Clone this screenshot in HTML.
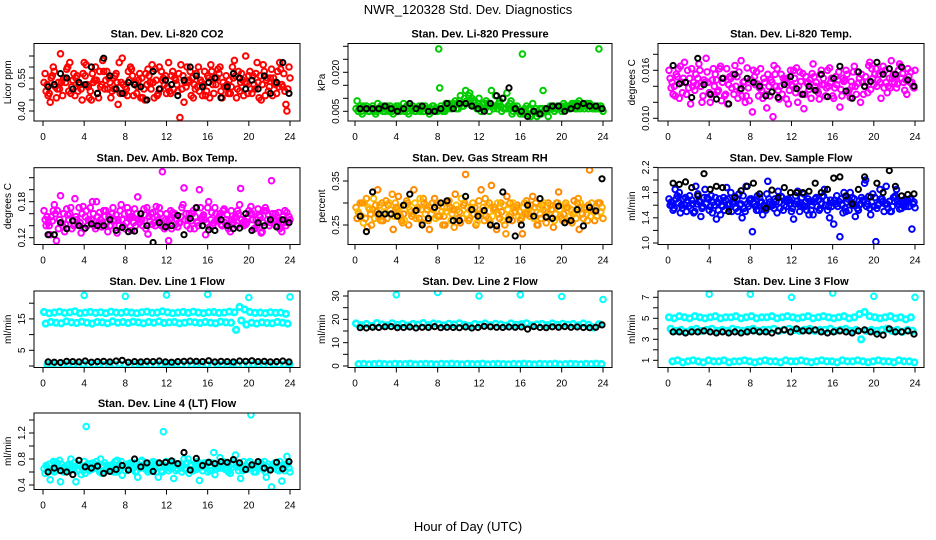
<!DOCTYPE html>
<html><head><meta charset="utf-8"><title>NWR_120328 Std. Dev. Diagnostics</title>
<style>
html,body{margin:0;padding:0;background:#fff;}
svg{display:block;font-family:"Liberation Sans",Arial,sans-serif;}
</style></head>
<body>
<svg id="chart" width="936" height="540" viewBox="0 0 936 540" xmlns="http://www.w3.org/2000/svg">
<text x="468" y="14" text-anchor="middle" font-size="13">NWR_120328 Std. Dev. Diagnostics</text>
<text x="468" y="531" text-anchor="middle" font-size="13">Hour of Day (UTC)</text>
</svg>
<script>
// ---- data ----
const xTicks = [0,4,8,12,16,20,24];
const co2A = [0.53,0.48,0.58,0.50,0.55,0.62,0.47,0.52,0.56,0.49,0.60,0.51,0.54,0.46,0.57,0.53,0.50,0.59,0.48,0.55,0.52,0.61,0.47,0.54,0.51,0.58,0.49,0.56,0.53,0.46,0.60,0.52,0.55,0.48,0.57,0.51,0.54,0.63,0.49,0.53,0.58,0.50,0.56,0.47,0.55,0.52,0.59,0.43];
const co2B = [0.57,0.44,0.51,0.66,0.53,0.48,0.55,0.50,0.61,0.45,0.54,0.52,0.58,0.49,0.53,0.64,0.47,0.56,0.51,0.46,0.59,0.53,0.48,0.55,0.62,0.50,0.57,0.44,0.54,0.52,0.49,0.58,0.46,0.55,0.60,0.51,0.48,0.56,0.53,0.65,0.50,0.57,0.45,0.54,0.59,0.48,0.52,0.40];
const co2C = [0.49,0.55,0.46,0.53,0.59,0.51,0.56,0.45,0.52,0.57,0.48,0.63,0.50,0.55,0.43,0.52,0.58,0.47,0.54,0.50,0.56,0.46,0.60,0.52,0.49,0.55,0.37,0.53,0.58,0.50,0.54,0.47,0.61,0.52,0.49,0.56,0.51,0.46,0.57,0.53,0.48,0.62,0.52,0.55,0.47,0.58,0.51,0.50];
const co2D = [0.52,0.56,0.50,0.47,0.60,0.54,0.49,0.57,0.51,0.53,0.46,0.58,0.55,0.50,0.62,0.48,0.54,0.52,0.57,0.45,0.53,0.59,0.50,0.56,0.48,0.54,0.61,0.51,0.47,0.57,0.53,0.49,0.58,0.55,0.46,0.52,0.60,0.50,0.54,0.48,0.56,0.53,0.61,0.49,0.55,0.51,0.57,0.60];
const co2E = [0.47,0.60,0.53,0.55,0.49,0.57,0.52,0.62,0.46,0.54,0.58,0.50,0.53,0.56,0.48,0.51,0.60,0.53,0.46,0.57,0.50,0.54,0.58,0.48,0.56,0.52,0.50,0.60,0.55,0.51,0.47,0.56,0.52,0.59,0.53,0.48,0.55,0.58,0.47,0.56,0.52,0.46,0.58,0.51,0.53,0.62,0.49,0.55];
const co2K = [0.51,0.52,0.57,0.55,0.50,0.53,0.52,0.60,0.48,0.64,0.56,0.50,0.48,0.53,0.52,0.51,0.45,0.58,0.50,0.54,0.52,0.47,0.54,0.60,0.56,0.51,0.53,0.55,0.46,0.51,0.57,0.55,0.50,0.54,0.50,0.56,0.48,0.53,0.62,0.48];

const presA = [0.006,0.005,0.007,0.006,0.005,0.006,0.007,0.005,0.006,0.006,0.005,0.007,0.006,0.005,0.006,0.007,0.029,0.006,0.008,0.007,0.009,0.010,0.012,0.009,0.007,0.006,0.008,0.011,0.007,0.006,0.009,0.006,0.005,0.007,0.004,0.003,0.006,0.005,0.006,0.007,0.006,0.007,0.007,0.008,0.007,0.006,0.007,0.029];
const presB = [0.009,0.004,0.006,0.007,0.008,0.005,0.006,0.004,0.007,0.008,0.004,0.006,0.007,0.005,0.004,0.006,0.014,0.005,0.007,0.009,0.011,0.013,0.008,0.007,0.005,0.009,0.013,0.007,0.005,0.012,0.004,0.007,0.027,0.004,0.008,0.005,0.013,0.003,0.007,0.006,0.008,0.006,0.008,0.009,0.006,0.008,0.006,0.006];
const presC = [0.005,0.007,0.005,0.005,0.006,0.007,0.005,0.006,0.005,0.005,0.007,0.005,0.005,0.007,0.006,0.005,0.007,0.008,0.006,0.006,0.008,0.009,0.010,0.006,0.006,0.008,0.007,0.006,0.010,0.007,0.005,0.005,0.004,0.006,0.005,0.004,0.005,0.006,0.005,0.006,0.007,0.006,0.006,0.006,0.007,0.007,0.006,0.007];
const presD = [0.006,0.006,0.005,0.006,0.006,0.005,0.007,0.006,0.005,0.006,0.006,0.005,0.006,0.006,0.005,0.006,0.006,0.007,0.007,0.008,0.007,0.008,0.009,0.008,0.006,0.007,0.006,0.008,0.006,0.006,0.007,0.005,0.006,0.006,0.005,0.006,0.006,0.007,0.006,0.007,0.007,0.007,0.008,0.007,0.008,0.007,0.006,0.006];
const presE = [0.007,0.006,0.006,0.004,0.007,0.006,0.005,0.007,0.006,0.007,0.006,0.006,0.007,0.006,0.007,0.005,0.005,0.006,0.008,0.006,0.007,0.011,0.007,0.010,0.008,0.005,0.007,0.009,0.006,0.008,0.006,0.004,0.005,0.003,0.006,0.004,0.005,0.006,0.006,0.005,0.006,0.008,0.006,0.007,0.008,0.006,0.007,0.005];
const presK = [0.006,0.006,0.006,0.006,0.007,0.006,0.005,0.006,0.008,0.006,0.007,0.005,0.005,0.006,0.008,0.006,0.008,0.008,0.007,0.006,0.005,0.008,0.011,0.010,0.014,0.006,0.005,0.003,0.005,0.004,0.006,0.007,0.007,0.005,0.006,0.007,0.008,0.007,0.007,0.006];

const tempA = [0.0160,0.0140,0.0125,0.0170,0.0150,0.0135,0.0160,0.0145,0.0120,0.0155,0.0165,0.0130,0.0150,0.0140,0.0172,0.0128,0.0148,0.0158,0.0135,0.0113,0.0145,0.0162,0.0130,0.0150,0.0140,0.0120,0.0156,0.0145,0.0168,0.0132,0.0150,0.0140,0.0125,0.0158,0.0146,0.0135,0.0165,0.0150,0.0140,0.0170,0.0155,0.0145,0.0160,0.0138,0.0152,0.0165,0.0148,0.0158];
const tempB = [0.0150,0.0128,0.0165,0.0145,0.0118,0.0155,0.0140,0.0175,0.0130,0.0148,0.0122,0.0162,0.0138,0.0152,0.0128,0.0163,0.0108,0.0143,0.0125,0.0155,0.0102,0.0135,0.0150,0.0118,0.0160,0.0140,0.0112,0.0136,0.0152,0.0124,0.0142,0.0163,0.0138,0.0114,0.0148,0.0126,0.0140,0.0120,0.0152,0.0136,0.0162,0.0125,0.0145,0.0172,0.0138,0.0150,0.0130,0.0145];
const tempC = [0.0138,0.0155,0.0145,0.0130,0.0162,0.0142,0.0120,0.0158,0.0148,0.0133,0.0145,0.0118,0.0155,0.0125,0.0145,0.0138,0.0160,0.0128,0.0150,0.0140,0.0166,0.0124,0.0145,0.0135,0.0150,0.0158,0.0130,0.0148,0.0140,0.0155,0.0128,0.0145,0.0152,0.0136,0.0160,0.0146,0.0130,0.0155,0.0145,0.0162,0.0140,0.0158,0.0132,0.0150,0.0143,0.0156,0.0162,0.0140];
const tempD = [0.0145,0.0152,0.0132,0.0160,0.0140,0.0150,0.0128,0.0145,0.0162,0.0135,0.0150,0.0142,0.0130,0.0158,0.0146,0.0122,0.0152,0.0138,0.0145,0.0128,0.0155,0.0140,0.0148,0.0160,0.0132,0.0146,0.0152,0.0125,0.0145,0.0160,0.0138,0.0150,0.0142,0.0128,0.0155,0.0140,0.0158,0.0145,0.0132,0.0150,0.0148,0.0165,0.0140,0.0155,0.0160,0.0145,0.0152,0.0138];
const tempE = [0.0130,0.0162,0.0150,0.0138,0.0145,0.0168,0.0148,0.0132,0.0140,0.0162,0.0128,0.0152,0.0166,0.0135,0.0120,0.0148,0.0142,0.0162,0.0130,0.0148,0.0140,0.0155,0.0124,0.0142,0.0163,0.0130,0.0144,0.0156,0.0135,0.0142,0.0160,0.0128,0.0148,0.0150,0.0132,0.0158,0.0144,0.0130,0.0166,0.0142,0.0155,0.0138,0.0150,0.0145,0.0168,0.0135,0.0145,0.0160];
const tempK = [0.0166,0.0143,0.0145,0.0126,0.0175,0.0142,0.0130,0.0124,0.0150,0.0118,0.0155,0.0137,0.0150,0.0145,0.0140,0.0128,0.0133,0.0126,0.0142,0.0152,0.0137,0.0130,0.0140,0.0135,0.0155,0.0127,0.0150,0.0165,0.0134,0.0125,0.0158,0.0140,0.0146,0.0170,0.0155,0.0162,0.0155,0.0164,0.0148,0.0140];

const ambA = [0.165,0.140,0.175,0.150,0.130,0.160,0.185,0.145,0.155,0.170,0.135,0.150,0.165,0.140,0.158,0.175,0.145,0.132,0.160,0.150,0.170,0.142,0.155,0.230,0.148,0.162,0.138,0.175,0.150,0.165,0.140,0.158,0.180,0.145,0.155,0.168,0.140,0.152,0.175,0.148,0.160,0.135,0.155,0.170,0.145,0.160,0.150,0.140];
const ambB = [0.150,0.125,0.160,0.190,0.142,0.170,0.155,0.128,0.165,0.150,0.180,0.138,0.146,0.160,0.128,0.150,0.170,0.155,0.188,0.140,0.126,0.162,0.150,0.140,0.115,0.158,0.145,0.203,0.160,0.135,0.200,0.150,0.138,0.170,0.160,0.145,0.130,0.155,0.202,0.142,0.172,0.150,0.128,0.165,0.215,0.148,0.130,0.162];
const ambC = [0.140,0.155,0.115,0.145,0.168,0.135,0.150,0.160,0.140,0.180,0.155,0.145,0.130,0.170,0.150,0.140,0.162,0.145,0.150,0.168,0.155,0.145,0.170,0.135,0.150,0.160,0.145,0.150,0.135,0.155,0.170,0.125,0.150,0.160,0.142,0.150,0.165,0.140,0.150,0.145,0.160,0.140,0.130,0.150,0.160,0.140,0.155,0.145];
const ambD = [0.155,0.148,0.165,0.140,0.158,0.150,0.142,0.172,0.150,0.160,0.145,0.165,0.155,0.148,0.140,0.160,0.152,0.168,0.145,0.158,0.148,0.140,0.160,0.150,0.165,0.142,0.155,0.160,0.148,0.170,0.152,0.145,0.162,0.150,0.140,0.158,0.150,0.165,0.145,0.155,0.150,0.168,0.145,0.158,0.150,0.162,0.145,0.155];
const ambE = [0.145,0.165,0.135,0.160,0.150,0.140,0.170,0.135,0.148,0.140,0.162,0.155,0.140,0.150,0.165,0.135,0.155,0.140,0.150,0.135,0.160,0.172,0.140,0.160,0.135,0.150,0.170,0.140,0.160,0.145,0.155,0.170,0.140,0.152,0.165,0.135,0.145,0.160,0.140,0.165,0.135,0.158,0.165,0.140,0.150,0.135,0.165,0.150];
const ambK = [0.125,0.125,0.145,0.135,0.148,0.140,0.136,0.143,0.140,0.140,0.150,0.132,0.137,0.130,0.131,0.160,0.140,0.112,0.145,0.138,0.140,0.157,0.125,0.152,0.170,0.140,0.133,0.132,0.150,0.140,0.135,0.136,0.160,0.132,0.145,0.140,0.150,0.138,0.150,0.145];

const rhA = [0.290,0.270,0.310,0.250,0.280,0.300,0.265,0.320,0.285,0.255,0.300,0.275,0.290,0.310,0.260,0.285,0.295,0.270,0.305,0.245,0.280,0.300,0.265,0.290,0.275,0.310,0.255,0.285,0.300,0.230,0.275,0.290,0.265,0.305,0.280,0.250,0.295,0.270,0.285,0.300,0.260,0.290,0.275,0.310,0.265,0.295,0.280,0.300];
const rhB = [0.265,0.300,0.245,0.285,0.330,0.260,0.295,0.240,0.315,0.275,0.250,0.330,0.265,0.300,0.240,0.310,0.270,0.250,0.290,0.320,0.255,0.365,0.285,0.250,0.330,0.270,0.340,0.240,0.280,0.315,0.260,0.295,0.230,0.275,0.315,0.250,0.285,0.300,0.245,0.325,0.275,0.260,0.305,0.240,0.290,0.375,0.260,0.300];
const rhC = [0.280,0.255,0.290,0.310,0.265,0.280,0.300,0.270,0.290,0.260,0.285,0.300,0.310,0.275,0.290,0.265,0.300,0.280,0.260,0.295,0.310,0.275,0.290,0.255,0.280,0.295,0.270,0.300,0.260,0.285,0.300,0.270,0.290,0.280,0.265,0.290,0.300,0.275,0.260,0.285,0.295,0.270,0.280,0.300,0.285,0.270,0.290,0.280];
const rhD = [0.275,0.300,0.285,0.265,0.295,0.275,0.285,0.300,0.270,0.295,0.280,0.265,0.285,0.295,0.275,0.300,0.280,0.290,0.275,0.285,0.265,0.290,0.300,0.275,0.290,0.265,0.285,0.275,0.295,0.270,0.290,0.280,0.300,0.270,0.290,0.275,0.280,0.295,0.275,0.270,0.300,0.285,0.265,0.290,0.275,0.300,0.270,0.290];
const rhE = [0.300,0.265,0.275,0.295,0.260,0.305,0.275,0.290,0.260,0.305,0.270,0.285,0.255,0.285,0.300,0.270,0.250,0.300,0.285,0.265,0.295,0.260,0.275,0.305,0.260,0.300,0.290,0.265,0.250,0.300,0.280,0.260,0.275,0.295,0.300,0.265,0.255,0.285,0.300,0.265,0.290,0.255,0.300,0.275,0.260,0.285,0.300,0.265];
const rhK = [0.270,0.235,0.325,0.275,0.275,0.275,0.270,0.295,0.320,0.283,0.250,0.265,0.290,0.300,0.305,0.260,0.260,0.315,0.285,0.270,0.283,0.250,0.248,0.325,0.262,0.225,0.250,0.295,0.270,0.310,0.268,0.265,0.293,0.255,0.260,0.285,0.248,0.290,0.282,0.355];

const sfA = [1.70,1.55,1.80,1.60,1.75,1.50,1.65,1.85,1.58,1.72,1.45,1.68,1.80,1.55,1.62,1.90,1.70,1.52,1.65,1.78,1.60,1.48,1.72,1.66,1.55,1.82,1.60,1.70,1.45,1.68,1.75,1.58,1.30,1.66,1.80,1.52,1.70,1.60,1.95,1.55,1.72,1.85,1.62,1.50,1.75,1.65,1.58,1.70];
const sfB = [1.60,1.85,1.48,1.72,1.55,1.90,1.42,1.62,1.75,1.38,1.60,1.88,1.50,1.70,1.40,1.62,1.18,1.75,1.45,1.98,1.60,1.82,1.52,1.70,1.38,1.62,1.78,1.45,1.65,1.52,1.85,1.40,1.68,1.10,1.55,1.80,1.42,1.62,2.00,1.45,1.02,1.70,1.90,1.50,1.85,1.55,1.68,1.22];
const sfC = [1.65,1.70,1.60,1.50,1.68,1.62,1.55,1.72,1.48,1.65,1.58,1.70,1.62,1.50,1.75,1.58,1.65,1.52,1.60,1.70,1.55,1.65,1.60,1.68,1.62,1.50,1.58,1.66,1.70,1.55,1.60,1.68,1.62,1.70,1.50,1.65,1.60,1.72,1.58,1.65,1.55,1.70,1.62,1.58,1.66,1.60,1.68,1.62];
const sfD = [1.60,1.75,1.55,1.68,1.62,1.78,1.58,1.70,1.65,1.52,1.72,1.60,1.66,1.78,1.55,1.68,1.62,1.72,1.58,1.65,1.70,1.55,1.68,1.62,1.75,1.58,1.66,1.52,1.72,1.62,1.68,1.58,1.75,1.60,1.65,1.72,1.55,1.68,1.62,1.78,1.60,1.66,1.55,1.72,1.62,1.68,1.58,1.65];
const sfE = [1.52,1.64,1.70,1.58,1.48,1.66,1.72,1.52,1.60,1.70,1.52,1.62,1.74,1.60,1.50,1.70,1.58,1.64,1.52,1.58,1.66,1.74,1.58,1.50,1.66,1.72,1.52,1.60,1.58,1.74,1.52,1.64,1.58,1.48,1.70,1.60,1.52,1.66,1.74,1.58,1.62,1.50,1.66,1.72,1.54,1.62,1.70,1.56];
const sfK = [1.95,1.93,1.97,1.88,1.75,2.10,1.85,1.90,1.88,1.50,1.72,1.83,1.90,1.95,1.78,1.55,1.84,1.72,1.88,1.80,1.80,1.80,1.82,1.95,1.80,1.85,2.03,2.05,1.75,1.62,1.85,2.05,1.73,1.95,1.80,2.15,1.90,1.75,1.77,1.78];

const l1Up = [17.2,16.8,17.0,17.3,16.9,17.1,17.4,16.8,17.0,17.2,16.9,17.1,16.8,17.3,17.0,16.9,17.2,17.0,16.8,17.1,17.3,16.9,17.0,17.4,17.1,16.8,17.0,17.2,16.9,17.3,17.0,16.8,17.1,17.2,16.9,17.0,17.3,17.1,18.8,18.0,17.2,16.9,17.0,16.8,17.1,16.9,17.0,16.6];
const l1Low = [13.5,14.0,13.8,13.6,14.2,13.9,13.7,14.1,13.8,13.5,14.0,13.9,13.6,14.2,13.8,14.0,13.7,14.1,13.9,13.6,14.0,13.8,14.2,13.7,13.9,14.0,13.6,13.8,14.1,13.9,13.7,14.0,13.8,13.6,14.1,13.9,13.8,11.5,14.5,13.2,13.8,13.5,13.9,13.7,13.6,14.0,13.8,13.5];
const l1Base = [0.4,0.5,0.3,0.4,0.5,0.4,0.3,0.5,0.4,0.4,0.5,0.3,0.4,0.4,0.5,0.4,0.3,0.4,0.5,0.4,0.4,0.3,0.5,0.4,0.4,0.5,0.4,0.3,0.4,0.5,0.4,0.4,0.3,0.5,0.4,0.4,0.5,0.4,0.3,0.4,0.5,0.4,0.4,0.3,0.5,0.4,0.4,0.5];
const l1K = [1.3,1.2,1.1,1.5,1.4,1.3,1.6,1.2,1.4,1.5,1.3,1.6,1.8,1.2,1.4,1.3,1.5,1.4,1.6,1.3,1.2,1.4,1.5,1.6,1.5,1.4,1.7,1.3,1.5,1.4,1.3,1.6,1.5,1.7,1.4,1.5,1.3,1.4,1.6,1.3];
const l1OutHrs = [4,8,12,16,20,24];
const l1Out = [22.5,22.2,22.6,22.8,21.8,22.0];

const l2Band = [18.2,17.5,18.0,17.2,18.4,17.8,17.4,18.3,17.6,18.1,17.3,18.0,17.7,18.4,17.5,18.2,17.9,17.4,18.1,17.8,18.3,17.6,17.2,18.0,17.7,18.2,17.5,18.1,17.8,17.3,18.2,17.6,17.9,18.3,17.4,17.8,18.0,17.5,18.2,17.6,18.1,17.7,18.0,17.4,18.2,17.7,16.5,17.9];
const l2Base = [0.8,0.9,0.7,0.8,1.0,0.8,0.7,0.9,0.8,0.8,1.0,0.7,0.8,0.9,0.8,0.7,0.9,0.8,1.0,0.8,0.7,0.9,0.8,0.8,1.0,0.7,0.8,0.9,0.8,0.7,0.9,0.8,1.0,0.8,0.7,0.9,0.8,0.8,1.0,0.7,0.8,0.9,0.8,0.7,0.9,0.8,1.0,0.8];
const l2K = [16.4,16.3,16.6,16.5,16.8,16.9,16.4,16.5,16.7,16.3,16.6,16.5,16.9,16.4,16.6,16.5,16.4,16.7,16.3,16.5,17.0,16.8,16.6,16.5,16.7,16.6,16.7,15.8,16.9,16.5,16.4,16.8,16.6,16.9,16.6,16.7,16.5,16.4,16.6,17.6];
const l2OutHrs = [4,8,12,16,20,24];
const l2Out = [30.5,31.5,30.0,30.5,29.8,28.5];

const l3Up = [5.1,5.0,5.2,5.1,5.0,5.2,5.1,5.0,5.1,5.2,5.0,5.1,5.1,5.2,5.0,5.1,5.2,5.0,5.1,5.1,5.2,5.0,5.1,5.2,5.1,5.0,5.1,5.2,5.0,5.1,5.2,5.1,5.0,5.1,5.2,5.0,5.1,5.4,5.6,5.2,5.1,5.0,5.1,5.2,5.0,5.1,4.9,5.1];
const l3Mid = [4.0,3.8,3.9,3.7,3.9,4.0,3.8,3.9,4.0,3.8,3.9,3.8,4.0,3.9,3.8,3.9,4.0,3.8,3.9,3.9,4.0,3.8,3.9,4.0,3.9,3.8,3.9,4.0,3.8,3.9,3.9,4.0,3.8,3.9,4.0,3.8,3.9,3.0,3.8,3.9,3.8,3.9,4.0,3.8,3.9,3.7,3.9,3.8];
const l3Base = [0.9,1.0,0.8,0.9,1.0,0.9,0.8,1.0,0.9,0.9,1.0,0.8,0.9,0.9,1.0,0.9,0.8,0.9,1.0,0.9,0.9,0.8,1.0,0.9,0.9,1.0,0.9,0.8,0.9,1.0,0.9,0.9,0.8,1.0,0.9,0.9,1.0,0.9,0.8,0.9,1.0,0.9,0.9,0.8,1.0,0.9,0.9,0.8];
const l3K = [3.7,3.7,3.6,3.7,3.7,3.8,3.7,3.6,3.7,3.6,3.7,3.6,3.7,3.8,3.7,3.7,3.6,3.8,3.9,3.7,4.0,3.8,3.8,3.9,3.7,3.6,3.7,3.8,3.7,3.6,3.8,3.9,3.7,3.5,3.4,4.0,3.7,3.7,3.8,3.5];
const l3OutHrs = [4,8,12,16,20,24];
const l3Out = [7.3,7.3,7.0,7.4,7.1,7.0];

const l4A = [0.65,0.72,0.60,0.78,0.68,0.62,0.75,0.70,0.58,0.73,0.66,0.80,0.64,0.70,0.60,0.76,0.68,0.72,0.62,0.78,0.66,0.70,0.74,0.60,0.68,0.76,0.64,0.70,0.80,0.62,0.72,0.68,0.75,0.90,0.66,0.72,0.62,0.78,0.70,0.64,0.76,0.68,0.72,0.60,0.66,0.74,0.70,0.72];
const l4B = [0.58,0.48,0.75,0.45,0.66,0.80,0.45,0.56,1.30,0.64,0.76,0.58,0.70,0.62,0.78,0.55,0.72,0.64,0.52,0.70,0.60,0.76,0.52,1.22,0.62,0.50,0.72,0.80,0.58,0.66,0.47,0.74,0.62,0.56,0.82,0.64,0.58,0.86,0.50,0.70,1.48,0.60,0.74,0.52,0.37,0.64,0.46,0.84];
const l4C = [0.70,0.64,0.68,0.72,0.66,0.70,0.62,0.68,0.72,0.65,0.70,0.68,0.62,0.72,0.66,0.70,0.64,0.68,0.70,0.66,0.72,0.64,0.68,0.70,0.66,0.72,0.68,0.64,0.70,0.66,0.72,0.68,0.70,0.64,0.68,0.72,0.66,0.70,0.68,0.64,0.70,0.72,0.66,0.68,0.70,0.64,0.68,0.72];
const l4D = [0.68,0.62,0.74,0.66,0.70,0.64,0.72,0.62,0.68,0.74,0.64,0.70,0.66,0.60,0.72,0.68,0.64,0.74,0.66,0.70,0.62,0.72,0.68,0.66,0.74,0.62,0.70,0.66,0.72,0.64,0.68,0.74,0.62,0.70,0.66,0.64,0.72,0.68,0.62,0.74,0.66,0.70,0.64,0.72,0.68,0.62,0.70,0.66];
const l4E = [0.62,0.76,0.66,0.60,0.72,0.74,0.64,0.76,0.62,0.68,0.60,0.74,0.70,0.76,0.64,0.62,0.74,0.60,0.76,0.64,0.74,0.60,0.62,0.76,0.72,0.66,0.60,0.74,0.64,0.76,0.62,0.60,0.74,0.68,0.76,0.60,0.74,0.62,0.76,0.66,0.60,0.72,0.76,0.64,0.74,0.76,0.62,0.60];
const l4K = [0.60,0.66,0.62,0.60,0.56,0.78,0.68,0.66,0.69,0.58,0.61,0.64,0.70,0.63,0.80,0.68,0.74,0.61,0.74,0.75,0.77,0.73,0.90,0.63,0.81,0.70,0.75,0.73,0.76,0.75,0.79,0.74,0.64,0.71,0.76,0.66,0.63,0.75,0.65,0.76];

// ---- rendering ----
const NS = 'http://www.w3.org/2000/svg';
const svg = document.getElementById('chart');
function mk(tag, attrs, parent){
  const e = document.createElementNS(NS, tag);
  for (const k in attrs) e.setAttribute(k, attrs[k]);
  (parent||svg).appendChild(e);
  return e;
}
const cols = [{l:34,r:300,x0:43,x24:290},{l:348,r:612,x0:355,x24:603},{l:658,r:924,x0:668,x24:915}];
const rows = [{t:43.5,b:121},{t:167.7,b:244.5},{t:291,b:367.5},{t:413,b:489.5}];

function hrsFor(n, off, step){ return Array.from({length:n},(_,i)=>i*step+off); }

const panels = [
 {name:'co2',title:'Stan. Dev. Li-820 CO2',ylab:'Licor ppm',c:0,r:0,v0:0.40,p0:111,k:220,ticks:[0.40,0.45,0.50,0.55,0.60,0.65],labels:[0.40,0.55],dec:2,
  series:[[co2A,'#ff0000'],[co2B,'#ff0000'],[co2C,'#ff0000'],[co2D,'#ff0000'],[co2E,'#ff0000']],black:co2K},
 {name:'pressure',title:'Stan. Dev. Li-820 Pressure',ylab:'kPa',c:1,r:0,v0:0.005,p0:111.3,k:2600,ticks:[0.005,0.010,0.015,0.020,0.025,0.030],labels:[0.005,0.020],dec:3,
  series:[[presA,'#00cc00'],[presB,'#00cc00'],[presC,'#00cc00'],[presD,'#00cc00'],[presE,'#00cc00']],black:presK},
 {name:'temp',title:'Stan. Dev. Li-820 Temp.',ylab:'degrees C',c:2,r:0,v0:0.010,p0:118.3,k:8000,ticks:[0.010,0.012,0.014,0.016,0.018],labels:[0.010,0.016],dec:3,
  series:[[tempA,'#ff00ff'],[tempB,'#ff00ff'],[tempC,'#ff00ff'],[tempD,'#ff00ff'],[tempE,'#ff00ff']],black:tempK},
 {name:'amb-box-temp',title:'Stan. Dev. Amb. Box Temp.',ylab:'degrees C',c:0,r:1,v0:0.12,p0:237.7,k:600,ticks:[0.12,0.14,0.16,0.18,0.20,0.22],labels:[0.12,0.18],dec:2,
  series:[[ambA,'#ff00ff'],[ambB,'#ff00ff'],[ambC,'#ff00ff'],[ambD,'#ff00ff'],[ambE,'#ff00ff']],black:ambK},
 {name:'gas-rh',title:'Stan. Dev. Gas Stream RH',ylab:'percent',c:1,r:1,v0:0.25,p0:225,k:440,ticks:[0.25,0.30,0.35],labels:[0.25,0.35],dec:2,
  series:[[rhA,'#ff9900'],[rhB,'#ff8800'],[rhC,'#ffbb00'],[rhD,'#ffaa00'],[rhE,'#ff9900']],black:rhK},
 {name:'sample-flow',title:'Stan. Dev. Sample Flow',ylab:'ml/min',c:2,r:1,v0:1.0,p0:243,k:63,ticks:[1.0,1.2,1.4,1.6,1.8,2.0,2.2],labels:[1.0,1.4,1.8,2.2],dec:1,
  series:[[sfA,'#0000ff'],[sfB,'#0000ff'],[sfC,'#0000ff'],[sfD,'#0000ff'],[sfE,'#0000ff']],black:sfK},
 {name:'line1-flow',title:'Stan. Dev. Line 1 Flow',ylab:'ml/min',c:0,r:2,v0:0,p0:366,k:3.14,ticks:[0,5,10,15,20],labels:[5,15],dec:0,band:true,
  series:[[l1Up,'#00ffff'],[l1Low,'#00ffff'],[l1Base,'#00ffff']],black:l1K,out:[l1OutHrs,l1Out]},
 {name:'line2-flow',title:'Stan. Dev. Line 2 Flow',ylab:'ml/min',c:1,r:2,v0:0,p0:366,k:2.333,ticks:[0,5,10,15,20,25,30],labels:[0,10,20,30],dec:0,band:true,
  series:[[l2Band,'#00ffff'],[l2Base,'#00ffff']],black:l2K,out:[l2OutHrs,l2Out]},
 {name:'line3-flow',title:'Stan. Dev. Line 3 Flow',ylab:'ml/min',c:2,r:2,v0:1,p0:360.3,k:10.5,ticks:[1,2,3,4,5,6,7],labels:[1,3,5,7],dec:0,band:true,
  series:[[l3Up,'#00ffff'],[l3Mid,'#00ffff'],[l3Base,'#00ffff']],black:l3K,out:[l3OutHrs,l3Out]},
 {name:'line4-flow',title:'Stan. Dev. Line 4 (LT) Flow',ylab:'ml/min',c:0,r:3,v0:0.4,p0:485,k:65,ticks:[0.4,0.6,0.8,1.0,1.2,1.4],labels:[0.4,0.8,1.2],dec:1,
  series:[[l4A,'#00ffff'],[l4B,'#00ffff'],[l4C,'#00ffff'],[l4D,'#00ffff'],[l4E,'#00ffff']],black:l4K}
];

panels.forEach(p=>{
  const C = cols[p.c], R = rows[p.r];
  const xs = h => C.x0 + (C.x24-C.x0)*h/24;
  const ys = v => p.p0 - (v-p.v0)*p.k;
  const g = mk('g',{});
  
  
  const clipId = 'clip-'+p.name;
  const cp = mk('clipPath',{id:clipId}, g);
  mk('rect',{x:C.l,y:R.t,width:C.r-C.l,height:R.b-R.t},cp);
  const t = mk('text',{x:(C.l+C.r)/2,y:R.t-6,'text-anchor':'middle','font-size':'11','font-weight':'bold'},g);
  t.textContent = p.title;
  
  
  const pts = mk('g',{'clip-path':'url(#'+clipId+')',fill:'none','stroke-width':p.band?'2.6':'2'},g);
  
  
  const ns = p.series.length;
  p.series.forEach((s,si)=>{
    const vals = s[0];
    const hrs = hrsFor(vals.length, 0.1+si*(0.5/ns), 24/vals.length);
    vals.forEach((v,i)=>{
      const c = mk('circle',{cx:xs(hrs[i]).toFixed(1),cy:ys(v).toFixed(1),r:2.8,stroke:s[1]},pts);
      
      
    });
  });
  if (p.out){
    p.out[1].forEach((v,i)=>{
      const c = mk('circle',{cx:xs(p.out[0][i]).toFixed(1),cy:ys(v).toFixed(1),r:2.8,stroke:'#00ffff','stroke-width':'2'},pts);
      
      
    });
  }
  const bhrs = hrsFor(p.black.length, 0.5, 23.4/(p.black.length-1));
  p.black.forEach((v,i)=>{
    const c = mk('circle',{cx:xs(bhrs[i]).toFixed(1),cy:ys(v).toFixed(1),r:2.6,stroke:'#000','stroke-width':'2'},pts);
    
    
  });
  const box = mk('rect',{x:C.l,y:R.t,width:C.r-C.l,height:R.b-R.t,fill:'none',stroke:'#000','stroke-width':'1'},g);
  
  
  xTicks.forEach(h=>{
    const x = xs(h);
    mk('line',{x1:x,x2:x,y1:R.b,y2:R.b+5,stroke:'#000'},g);
    const lt = mk('text',{x:x,y:R.b+19,'text-anchor':'middle','font-size':'10'},g);
    lt.textContent = h;
    
    
  });
  p.ticks.forEach(v=>{
    const y = ys(v);
    mk('line',{x1:C.l-5,x2:C.l,y1:y,y2:y,stroke:'#000'},g);
  });
  p.labels.forEach(v=>{
    const y = ys(v), x = C.l-9;
    const lt = mk('text',{x:x,y:y,'text-anchor':'middle','font-size':'10',transform:'rotate(-90 '+x+' '+y+')'},g);
    lt.textContent = v.toFixed(p.dec);
    
    
  });
  const yx = C.l-23, yy = (R.t+R.b)/2;
  const yl = mk('text',{x:yx,y:yy,'text-anchor':'middle','font-size':'10',transform:'rotate(-90 '+yx+' '+yy+')'},g);
  yl.textContent = p.ylab;
  
  
});
</script>
</body></html>
